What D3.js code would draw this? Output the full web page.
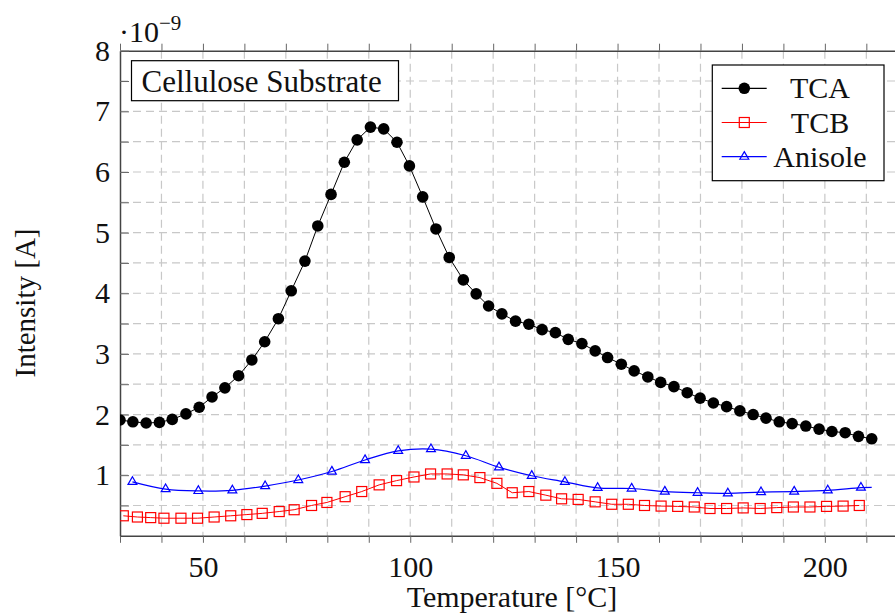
<!DOCTYPE html>
<html lang="en">
  <head>
    <meta charset="UTF-8" />
    <title>Cellulose Substrate</title>
    <script src="https://cdn.jsdelivr.net/npm/d3@7"></script>
    <style>
      body { margin: 0; background: #fff; }
      svg { display: block; font-family: "Liberation Serif", serif; }
    </style>
  </head>
  <body>
    <svg id="chart" width="895" height="614"></svg>

    <script>
      // TCA (black dots)
      const tcaTemp = [30.0, 33.1, 36.3, 39.5, 42.6, 45.9, 49.1, 52.2, 55.3, 58.6,
        61.8, 64.9, 68.2, 71.3, 74.6, 77.7, 80.9, 84.1, 87.2, 90.4,
        93.6, 96.8, 99.8, 103.0, 106.2, 109.4, 112.8, 115.9, 118.9, 122.1,
        125.4, 128.6, 131.8, 135.0, 138.1, 141.4, 144.6, 147.6, 150.9, 154.0,
        157.3, 160.4, 163.6, 166.8, 169.9, 173.1, 176.3, 179.5, 182.7, 185.8,
        189.0, 192.1, 195.4, 198.6, 201.7, 204.9, 208.1, 211.3];
      const tcaVal = [1.91, 1.88, 1.86, 1.87, 1.92, 2.01, 2.12, 2.29, 2.44, 2.64,
        2.90, 3.20, 3.58, 4.04, 4.53, 5.11, 5.63, 6.16, 6.53, 6.74,
        6.71, 6.49, 6.10, 5.59, 5.06, 4.59, 4.22, 3.99, 3.79, 3.66,
        3.54, 3.49, 3.40, 3.35, 3.24, 3.17, 3.05, 2.94, 2.83, 2.72,
        2.62, 2.53, 2.46, 2.36, 2.27, 2.19, 2.13, 2.06, 2.00, 1.94,
        1.88, 1.85, 1.81, 1.76, 1.72, 1.70, 1.64, 1.60];

      // TCB (red squares)
      const tcbTemp = [30.8, 34.2, 37.4, 40.6, 44.7, 48.7, 52.7, 56.7, 60.6, 64.3,
        68.4, 72.0, 76.2, 79.9, 84.3, 88.3, 92.5, 96.7, 100.9, 104.9,
        108.9, 112.8, 116.8, 120.9, 124.6, 128.6, 132.7, 136.5, 140.5, 144.6,
        148.6, 152.6, 156.5, 160.5, 164.5, 168.5, 172.3, 176.3, 180.3, 184.4,
        188.4, 192.4, 196.4, 200.4, 204.4, 208.3];
      const tcbVal = [0.33, 0.31, 0.30, 0.29, 0.29, 0.29, 0.31, 0.33, 0.35, 0.37,
        0.40, 0.43, 0.50, 0.55, 0.645, 0.73, 0.84, 0.91, 0.97, 1.02,
        1.02, 1.005, 0.96, 0.865, 0.71, 0.73, 0.67, 0.61, 0.60, 0.56,
        0.52, 0.52, 0.50, 0.49, 0.485, 0.475, 0.45, 0.45, 0.46, 0.45,
        0.465, 0.475, 0.475, 0.485, 0.49, 0.50];

      // Anisole (blue triangles); last point is line end only, no mark
      const aniTemp = [33.0, 41.0, 48.9, 57.1, 65.0, 73.0, 81.1, 89.1, 97.1, 105.0,
        113.4, 121.4, 129.3, 137.3, 145.2, 153.4, 161.4, 169.3, 176.6, 184.6,
        192.6, 200.7, 208.7, 211.3];
      const aniVal = [0.89, 0.77, 0.74, 0.75, 0.82, 0.92, 1.06, 1.25, 1.40, 1.43,
        1.32, 1.13, 0.99, 0.89, 0.79, 0.78, 0.73, 0.71, 0.70, 0.72,
        0.73, 0.75, 0.795, 0.80];

      const xTicks = [50, 100, 150, 200];
      const yTicks = [1, 2, 3, 4, 5, 6, 7, 8];

      const svg = d3.select("#chart");
      const pLeft = 120, pRight = 899.5, pTop = 50.7, pBottom = 535.8;

      const x = d3.scaleLinear().domain([30, 218]).range([pLeft, pRight]);
      const y = d3.scaleLinear().domain([0, 8]).range([pBottom, pTop]);

      svg.append("defs").append("clipPath").attr("id", "plot")
        .append("rect")
        .attr("x", pLeft).attr("y", pTop)
        .attr("width", pRight - pLeft).attr("height", pBottom - pTop);

      // grid
      const grid = svg.append("g")
        .attr("stroke", "#c8c8c8")
        .attr("stroke-width", 1.2)
        .attr("stroke-dasharray", "8,5");
      grid.selectAll("line.gx")
        .data(d3.range(40, 218, 10))
        .join("line")
        .attr("class", "gx")
        .attr("x1", d => x(d)).attr("x2", d => x(d))
        .attr("y1", pTop).attr("y2", pBottom);
      grid.selectAll("line.gy")
        .data(d3.range(0.5, 8, 0.5))
        .join("line")
        .attr("class", "gy")
        .attr("x1", pLeft).attr("x2", pRight)
        .attr("y1", d => y(d)).attr("y2", d => y(d));

      // axes with ticks
      const xAxis = d3.axisBottom(x)
        .tickValues(d3.range(30, 218, 10))
        .tickFormat(d => (xTicks.includes(d) ? d : ""))
        .tickSize(7).tickSizeOuter(0).tickPadding(13);
      const gx = svg.append("g")
        .attr("transform", `translate(0,${pBottom})`)
        .call(xAxis);
      gx.selectAll(".tick text")
        .attr("font-size", 30)
        .attr("font-family", "Liberation Serif, serif")
        .attr("fill", "#111");

      const xTop = d3.axisTop(x)
        .tickValues(d3.range(30, 218, 10))
        .tickFormat("")
        .tickSize(7).tickSizeOuter(0);
      svg.append("g")
        .attr("transform", `translate(0,${pTop})`)
        .call(xTop);

      const yAxis = d3.axisLeft(y)
        .tickValues(d3.range(0.5, 8.01, 0.5))
        .tickFormat(d => (yTicks.includes(d) ? d : ""))
        .tickSize(-9).tickSizeOuter(0).tickPadding(10);
      const gy = svg.append("g")
        .attr("transform", `translate(${pLeft},0)`)
        .call(yAxis);
      gy.selectAll(".tick text")
        .attr("font-size", 30)
        .attr("font-family", "Liberation Serif, serif")
        .attr("fill", "#111")
        .attr("x", -10);

      svg.selectAll(".domain").attr("stroke", "#444").attr("stroke-width", 1.5);
      svg.selectAll(".tick line").attr("stroke", "#666").attr("stroke-width", 1);

      // right frame (mostly out of view)
      svg.append("line")
        .attr("x1", pRight).attr("x2", pRight)
        .attr("y1", pTop).attr("y2", pBottom)
        .attr("stroke", "#444").attr("stroke-width", 1.5);

      // exponent
      const expo = svg.append("text")
        .attr("x", 119).attr("y", 42)
        .attr("font-size", 30)
        .attr("fill", "#111");
      expo.append("tspan").text("·10");
      expo.append("tspan")
        .attr("font-size", 21)
        .attr("dy", -12)
        .text("−9");

      const plot = svg.append("g").attr("clip-path", "url(#plot)");

      // TCA
      const tca = tcaTemp.map((t, i) => [t, tcaVal[i]]);
      plot.append("path")
        .datum(tca)
        .attr("fill", "none")
        .attr("stroke", "#000")
        .attr("stroke-width", 1)
        .attr("d", d3.line().x(d => x(d[0])).y(d => y(d[1])));
      plot.selectAll("circle.tca")
        .data(tca)
        .join("circle")
        .attr("cx", d => x(d[0]))
        .attr("cy", d => y(d[1]))
        .attr("r", 5.8)
        .attr("fill", "#000");

      // TCB
      const tcb = tcbTemp.map((t, i) => [t, tcbVal[i]]);
      plot.append("path")
        .datum(tcb)
        .attr("fill", "none")
        .attr("stroke", "#ff0000")
        .attr("stroke-width", 1)
        .attr("d", d3.line().x(d => x(d[0])).y(d => y(d[1])));
      plot.selectAll("rect.tcb")
        .data(tcb)
        .join("rect")
        .attr("x", d => x(d[0]) - 5)
        .attr("y", d => y(d[1]) - 5)
        .attr("width", 10).attr("height", 10)
        .attr("fill", "none")
        .attr("stroke", "#ff0000")
        .attr("stroke-width", 1.2);

      // Anisole
      const ani = aniTemp.map((t, i) => [t, aniVal[i]]);
      const tri = d3.symbol().type(d3.symbolTriangle).size(34);
      plot.append("path")
        .datum(ani)
        .attr("fill", "none")
        .attr("stroke", "#0000ff")
        .attr("stroke-width", 1.2)
        .attr("d", d3.line().curve(d3.curveCatmullRom).x(d => x(d[0])).y(d => y(d[1])));
      plot.selectAll("path.ani")
        .data(ani.slice(0, -1))
        .join("path")
        .attr("class", "ani")
        .attr("transform", d => `translate(${x(d[0])},${y(d[1])})`)
        .attr("d", tri)
        .attr("fill", "none")
        .attr("stroke", "#0000ff")
        .attr("stroke-width", 1.2);

      // title box
      svg.append("rect")
        .attr("x", 131.5).attr("y", 60.7)
        .attr("width", 267).attr("height", 40)
        .attr("fill", "#fff")
        .attr("stroke", "#000").attr("stroke-width", 1.2);
      svg.append("text")
        .attr("x", 141.5).attr("y", 91.5)
        .attr("font-size", 31)
        .attr("fill", "#111")
        .text("Cellulose Substrate");

      // legend
      const leg = svg.append("g");
      leg.append("rect")
        .attr("x", 712.3).attr("y", 65)
        .attr("width", 171.7).attr("height", 115.7)
        .attr("fill", "#fff")
        .attr("stroke", "#000").attr("stroke-width", 1.2);
      const entries = [
        { name: "TCA", color: "#000", mark: "dot" },
        { name: "TCB", color: "#ff0000", mark: "square" },
        { name: "Anisole", color: "#0000ff", mark: "tri" }
      ];
      entries.forEach((e, i) => {
        const cy = 88.3 + i * 34.2;
        leg.append("line")
          .attr("x1", 721.7).attr("x2", 766.7)
          .attr("y1", cy).attr("y2", cy)
          .attr("stroke", e.color).attr("stroke-width", 1.2);
        if (e.mark === "dot") {
          leg.append("circle").attr("cx", 744.3).attr("cy", cy).attr("r", 5.8).attr("fill", e.color);
        } else if (e.mark === "square") {
          leg.append("rect")
            .attr("x", 739.3).attr("y", cy - 5).attr("width", 10).attr("height", 10)
            .attr("fill", "none").attr("stroke", e.color).attr("stroke-width", 1.2);
        } else {
          leg.append("path")
            .attr("transform", `translate(744.3,${cy})`)
            .attr("d", tri)
            .attr("fill", "none").attr("stroke", e.color).attr("stroke-width", 1.2);
        }
        leg.append("text")
          .attr("x", 820).attr("y", cy + 10)
          .attr("text-anchor", "middle")
          .attr("font-size", 30)
          .attr("fill", "#111")
          .text(e.name);
      });

      // axis labels
      svg.append("text")
        .attr("x", 512).attr("y", 607)
        .attr("text-anchor", "middle")
        .attr("font-size", 30)
        .attr("fill", "#111")
        .text("Temperature [°C]");
      svg.append("text")
        .attr("transform", "translate(35,303) rotate(-90)")
        .attr("text-anchor", "middle")
        .attr("font-size", 29)
        .attr("fill", "#111")
        .text("Intensity [A]");
    </script>
  </body>
</html>
